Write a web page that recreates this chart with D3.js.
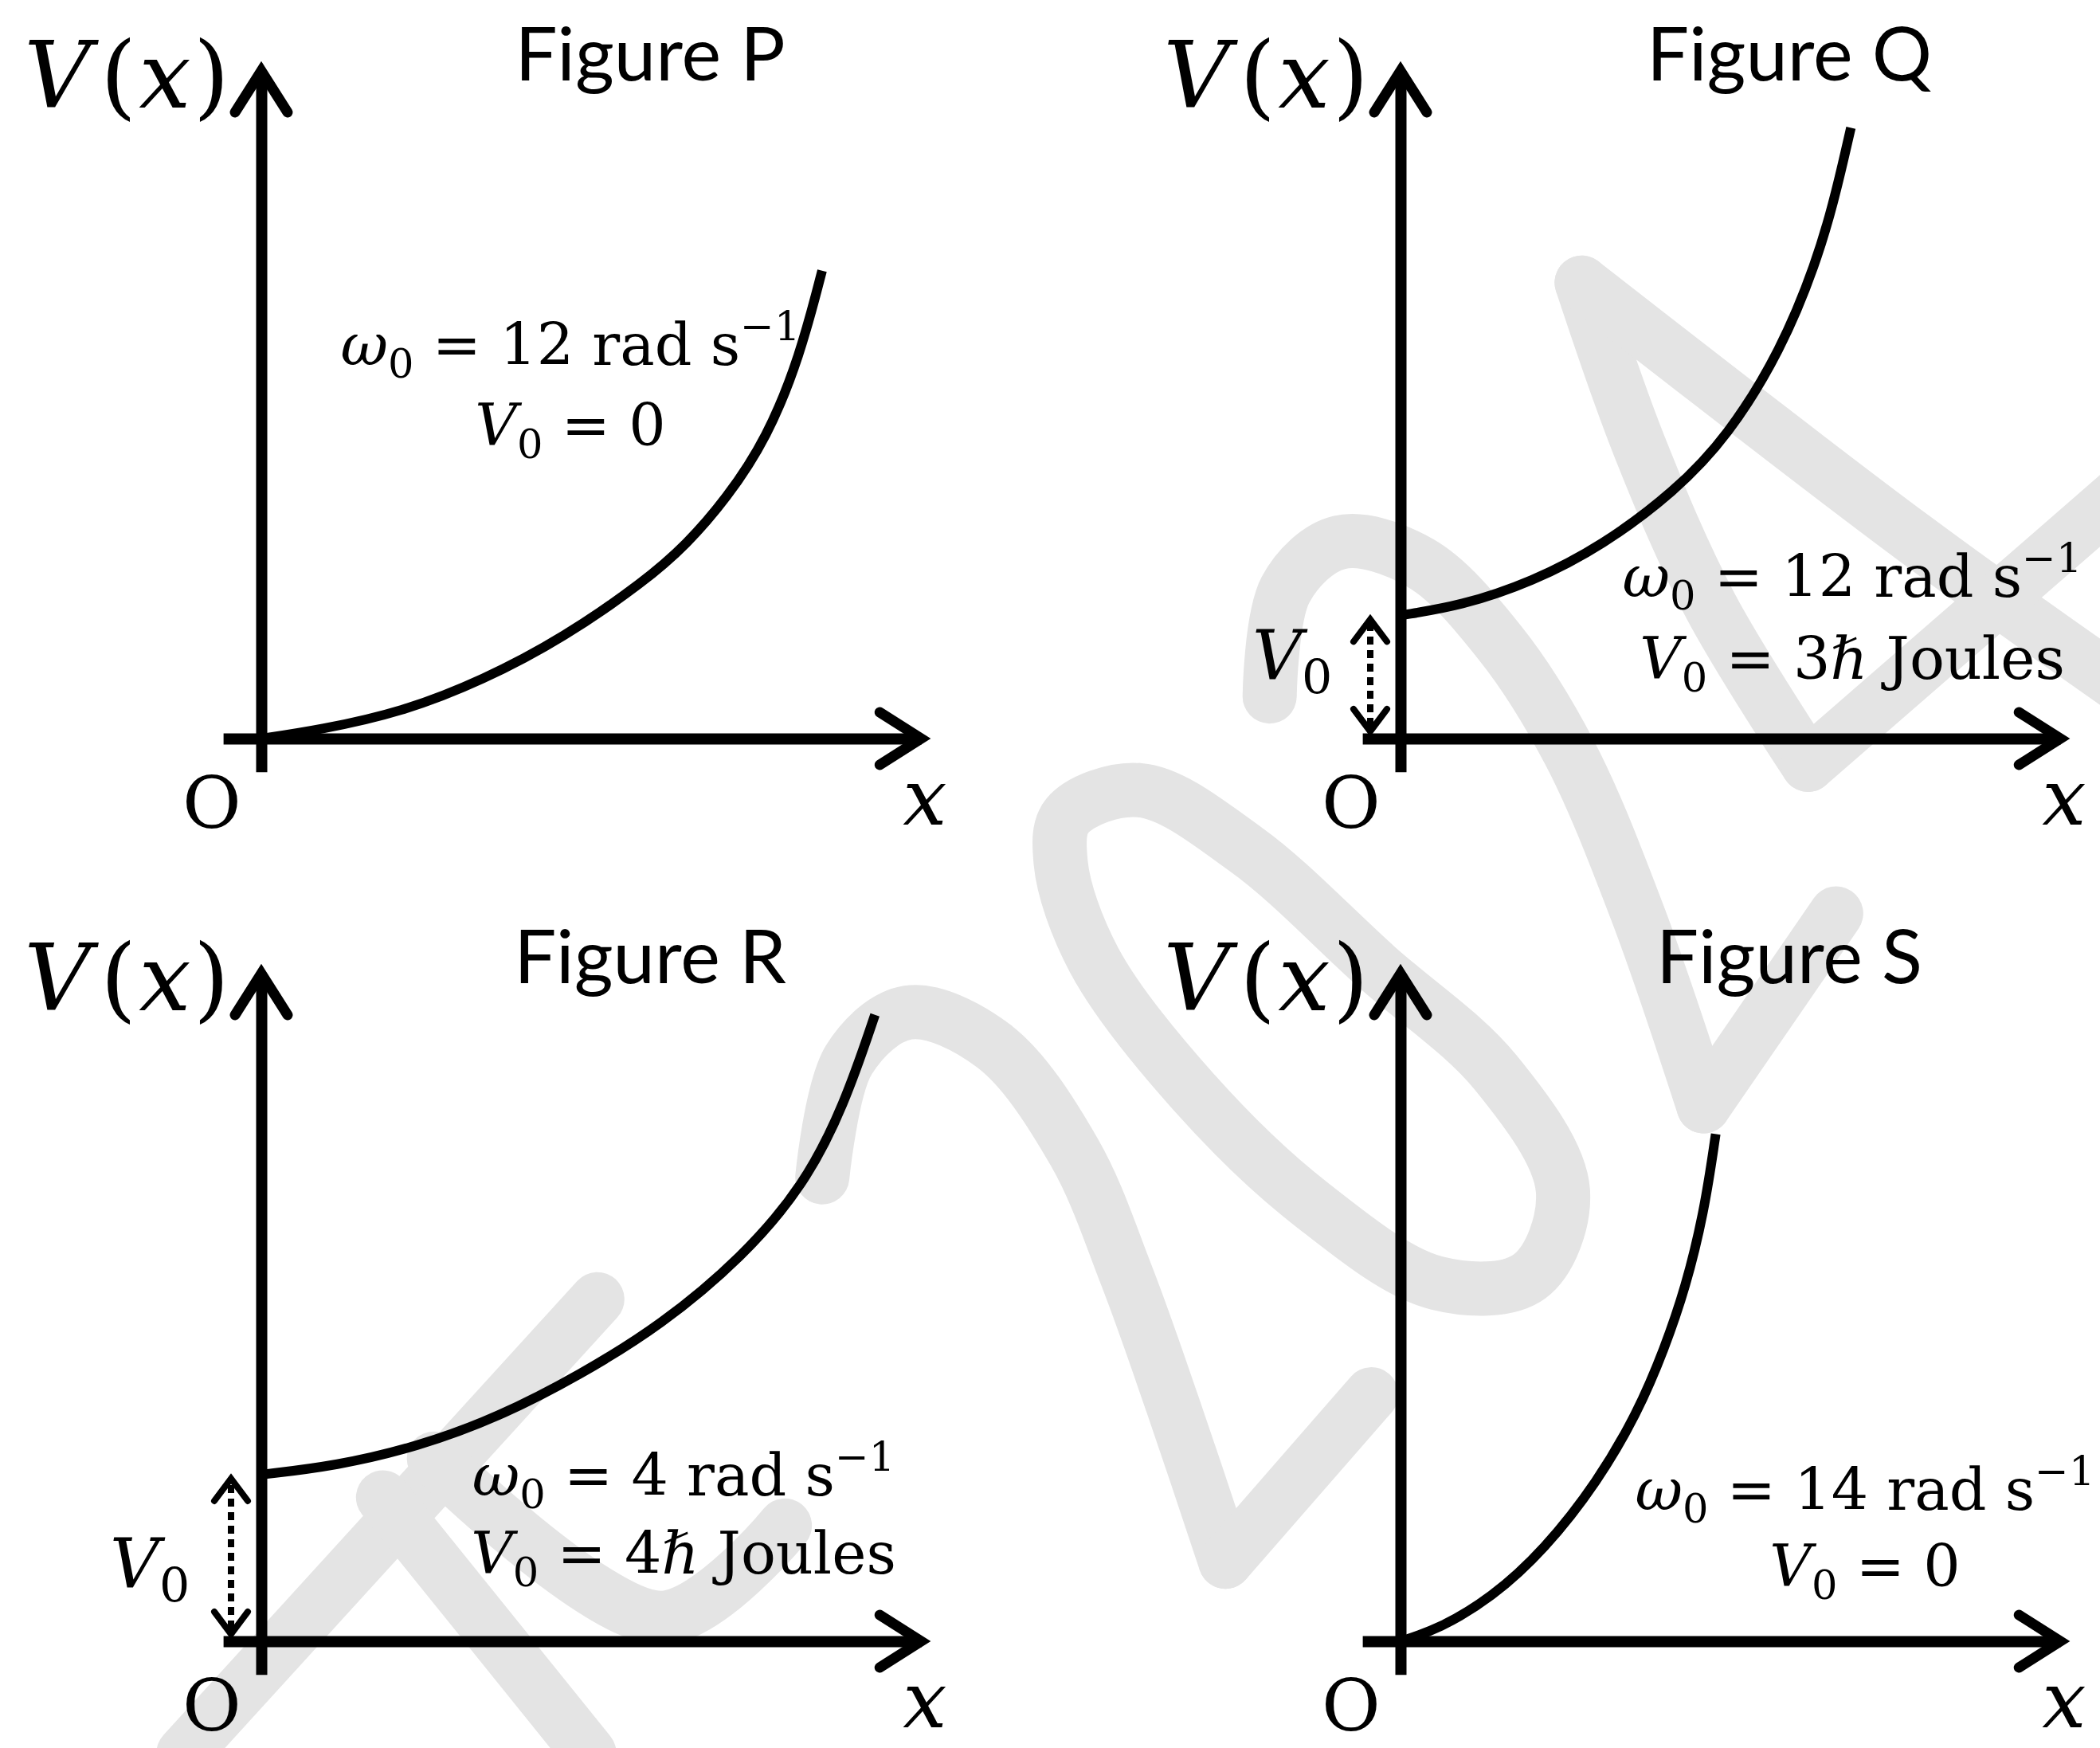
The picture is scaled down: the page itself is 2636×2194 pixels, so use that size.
<!DOCTYPE html>
<html>
<head>
<meta charset="utf-8">
<script src="https://cdn.jsdelivr.net/npm/d3@7"></script>
<style>
  body { margin: 0; background: #fff; }
  svg { display: block; }
</style>
</head>
<body>
<svg id="chart"></svg>
<script>
var figureNames = ["P", "Q", "R", "S"];
var omegaLabels = ["12", "12", "4", "14"];
var v0Labels = ["0", "3", "4", "0"];          // V0 as a multiple of hbar, 0 = no offset

var xP = [0, 0.88, 2.10, 3.31, 4.52, 5.74, 6.35, 6.95, 7.56, 8.05, 8.38];
var vP = [0, 0.13, 0.39, 0.86, 1.49, 2.33, 2.86, 3.54, 4.44, 5.65, 6.91];
var xQ = [0, 0.90, 1.96, 3.02, 4.10, 4.89, 5.69, 6.21, 6.49, 6.73];
var vQ = [1.82, 1.96, 2.31, 2.85, 3.65, 4.46, 5.74, 7.02, 7.98, 9.02];
var xR = [0, 1.12, 2.33, 3.55, 4.76, 5.98, 7.19, 8.11, 8.71, 9.17];
var vR = [2.46, 2.59, 2.87, 3.31, 3.93, 4.67, 5.67, 6.73, 7.91, 9.25];
var xS = [0, 0.57, 1.36, 2.15, 2.95, 3.55, 3.94, 4.26, 4.54, 4.71];
var vS = [0, 0.18, 0.64, 1.35, 2.36, 3.39, 4.31, 5.22, 6.35, 7.49];

var curvesX = [xP, xQ, xR, xS];
var curvesV = [vP, vQ, vR, vS];

var width = 2636, height = 2194;
var mathFont = "'DejaVu Serif', 'Liberation Serif', serif";
var titleFont = "Lato, 'Open Sans', sans-serif";

// panel origins and text placement (offsets from the origin)
var layout = [
  { ox: 328,  oy: 927,  noteX: 388, noteY: [-469, -368], sideV0: null },
  { ox: 1758, oy: 927,  noteX: 567, noteY: [-178, -75],  sideV0: [-186, -75] },
  { ox: 328,  oy: 2060, noteX: 530, noteY: [-183, -85],  sideV0: [-190, -68] },
  { ox: 1758, oy: 2060, noteX: 583, noteY: [-165, -69],  sideV0: null }
];

var svg = d3.select("#chart").attr("width", width).attr("height", height);
svg.append("rect").attr("width", width).attr("height", height).attr("fill", "#fff");

// ---- watermark (traced on the 1568 wide preview, scaled up) ----
var wm = d3.scaleLinear().domain([0, 1568]).range([0, width]);
var wmStrokes = [
  [[446, 970], [137, 1309]],
  [[286, 1118], [440, 1309]],
  [[324, 1089], [494, 1208], [586, 1139]],
  [[614, 879], [634, 791], [678, 756], [742, 781], [802, 860], [841, 952], [876, 1050], [915, 1166]],
  [[915, 1166], [1024, 1041]],
  [[948, 520], [960, 440], [1000, 405], [1060, 420], [1120, 480], [1172, 562], [1222, 680], [1272, 826]],
  [[1272, 826], [1371, 682]],
  [[1350, 571], [1277, 452], [1224, 333], [1181, 211]],
  [[1181, 211], [1428, 401], [1580, 510]],
  [[1350, 571], [1580, 371]]
];
var wmRing = [[797, 609], [851, 590], [930, 634], [1028, 722], [1117, 801], [1167, 889],
  [1142, 953], [1073, 958], [979, 899], [891, 815], [817, 717], [792, 644]];

var wmLayer = svg.append("g")
  .attr("fill", "none")
  .attr("stroke", "#e4e4e4")
  .attr("stroke-width", 68)
  .attr("stroke-linecap", "round")
  .attr("stroke-linejoin", "round");

var wmLine = d3.line().x(function (d) { return wm(d[0]); }).y(function (d) { return wm(d[1]); })
  .curve(d3.curveCatmullRom.alpha(0.5));
wmLayer.selectAll("path.stroke").data(wmStrokes).enter().append("path")
  .attr("class", "stroke").attr("d", wmLine);
wmLayer.append("path").datum(wmRing)
  .attr("d", wmLine.curve(d3.curveCatmullRomClosed.alpha(0.5)));

// ---- helpers ----
function addMath(textSel, parts, size) {
  var shift = 0;
  parts.forEach(function (p) {
    var target = p.sub ? size * 0.22 : (p.sup ? -size * 0.42 : 0);
    textSel.append("tspan")
      .attr("dx", p.dx || 0)
      .attr("dy", target - shift)
      .attr("font-size", (p.sub || p.sup) ? size * 0.7 : size)
      .attr("font-style", p.it ? "italic" : "normal")
      .text(p.t);
    shift = target;
  });
}

// open arrow head; (ux,uy) is the unit vector from the tip back along the shaft
function chevron(g, tipX, tipY, ux, uy, back, half, w) {
  var bx = tipX + ux * back, by = tipY + uy * back;
  g.append("path")
    .attr("d", "M" + (bx - uy * half) + "," + (by + ux * half) +
               "L" + tipX + "," + tipY +
               "L" + (bx + uy * half) + "," + (by - ux * half))
    .attr("fill", "none").attr("stroke", "#000")
    .attr("stroke-width", w)
    .attr("stroke-linecap", "round")
    .attr("stroke-linejoin", "miter");
}

// ---- panels ----
figureNames.forEach(function (name, i) {
  var L = layout[i];
  var x = d3.scaleLinear().domain([0, 10]).range([L.ox, L.ox + 840]);
  var y = d3.scaleLinear().domain([0, 10]).range([L.oy, L.oy - 850]);
  var g = svg.append("g").attr("class", "panel-" + name);

  // axes: domain lines only
  var xAxisScale = d3.scaleLinear().domain([-0.57, 9.86]).range([x(-0.57), x(9.86)]);
  var yAxisScale = d3.scaleLinear().domain([-0.49, 9.86]).range([y(-0.49), y(9.86)]);
  g.append("g").attr("transform", "translate(0," + L.oy + ")")
    .call(d3.axisBottom(xAxisScale).ticks(0).tickSizeOuter(0));
  g.append("g").attr("transform", "translate(" + L.ox + ",0)")
    .call(d3.axisLeft(yAxisScale).ticks(0).tickSizeOuter(0));
  g.selectAll(".domain").attr("stroke", "#000").attr("stroke-width", 14);

  chevron(g, x(9.86), L.oy, -1, 0, 52, 33, 13);
  chevron(g, L.ox, y(9.86), 0, 1, 52, 33, 13);

  // potential curve
  var pts = d3.zip(curvesX[i], curvesV[i]);
  var line = d3.line()
    .x(function (d) { return x(d[0]); })
    .y(function (d) { return y(d[1]); })
    .curve(d3.curveBasis);
  g.append("path").datum(pts)
    .attr("d", line)
    .attr("fill", "none").attr("stroke", "#000")
    .attr("stroke-width", 12);

  // dotted V0 arrow
  if (v0Labels[i] !== "0") {
    var v0 = curvesV[i][0];
    var ax0 = L.ox - 38;
    g.append("line")
      .attr("x1", ax0).attr("x2", ax0)
      .attr("y1", y(0) - 16).attr("y2", y(v0) + 10)
      .attr("stroke", "#000").attr("stroke-width", 8)
      .attr("stroke-dasharray", "10,7");
    chevron(g, ax0, y(v0) + 5, 0, 1, 28, 21, 8);
    chevron(g, ax0, y(0) - 9, 0, -1, 28, 21, 8);

    var side = g.append("text")
      .attr("x", L.ox + L.sideV0[0]).attr("y", L.oy + L.sideV0[1])
      .attr("font-family", mathFont);
    addMath(side, [{ t: "V", it: true }, { t: "0", sub: true }], 86);
  }

  // axis labels
  var vx = g.append("text")
    .attr("x", L.ox - 40).attr("y", L.oy - 792)
    .attr("text-anchor", "end")
    .attr("font-family", mathFont);
  addMath(vx, [{ t: "V", it: true }, { t: "(", dx: 12 }, { t: "x", it: true, dx: 3 }, { t: ")", dx: 3 }], 116);

  g.append("text")
    .attr("x", L.ox - 62).attr("y", L.oy + 112)
    .attr("text-anchor", "middle")
    .attr("font-family", mathFont).attr("font-size", 90)
    .text("O");

  g.append("text")
    .attr("x", L.ox + 833).attr("y", L.oy + 108)
    .attr("text-anchor", "middle")
    .attr("font-family", mathFont).attr("font-size", 98)
    .attr("font-style", "italic")
    .text("x");

  g.append("text")
    .attr("x", L.ox + 488).attr("y", L.oy - 826)
    .attr("text-anchor", "middle")
    .attr("font-family", titleFont).attr("font-size", 94)
    .text("Figure " + name);

  // parameter note
  var note1 = g.append("text")
    .attr("x", L.ox + L.noteX).attr("y", L.oy + L.noteY[0])
    .attr("text-anchor", "middle").attr("font-family", mathFont);
  addMath(note1, [
    { t: "ω", it: true }, { t: "0", sub: true },
    { t: " = " + omegaLabels[i] + " rad s" }, { t: "−1", sup: true }
  ], 73);

  var note2 = g.append("text")
    .attr("x", L.ox + L.noteX).attr("y", L.oy + L.noteY[1])
    .attr("text-anchor", "middle").attr("font-family", mathFont);
  var v0Parts = [{ t: "V", it: true }, { t: "0", sub: true }];
  if (v0Labels[i] === "0") {
    v0Parts.push({ t: " = 0" });
  } else {
    v0Parts.push({ t: " = " + v0Labels[i] }, { t: "ℏ", it: true }, { t: " Joules" });
  }
  addMath(note2, v0Parts, 73);
});
</script>
</body>
</html>
